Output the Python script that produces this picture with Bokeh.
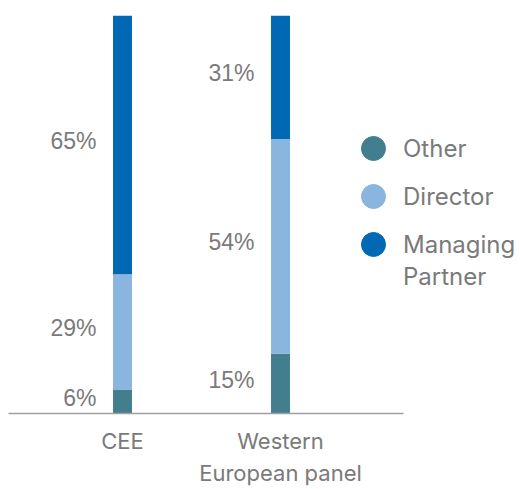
from bokeh.plotting import figure
from bokeh.models import ColumnDataSource, Range1d, Legend, LegendItem, FixedTicker
from bokeh.core.properties import value
from bokeh.embed import file_html
from bokeh.resources import INLINE

categories = ["CEE", "Western\nEuropean panel"]
other = [6, 15]
director = [29, 54]
managing = [65, 31]
series = ["Other", "Director", "Managing"]
series_wrap = "Partner"
colors = ["#437e8f", "#8ab5df", "#0169b4"]

xpos = [1, 2]
TEXT = "#7a7a7a"
FONT = "Inter"

p = figure(width=520, height=489, output_backend="svg", toolbar_location=None,
           x_range=Range1d(0.2785, 3.519), y_range=Range1d(0, 100),
           min_border_left=8, min_border_right=0, min_border_top=15,
           min_border_bottom=74)
p.outline_line_color = None
p.grid.visible = False
p.yaxis.visible = False

src = ColumnDataSource(dict(x=xpos, Other=other, Director=director, Managing=managing))
stack_cols = ["Other", "Director", "Managing"]
p.vbar_stack(stack_cols, x="x", width=0.12, color=colors, line_color=None, source=src)

# value labels
lx, ly, lt = [], [], []
for i, xv in enumerate(xpos):
    base = 0
    for vals in (other, director, managing):
        v = vals[i]
        lx.append(xv)
        ly.append(base + v / 2)
        lt.append(f"{v}%")
        base += v
p.text(x=lx, y=ly, text=lt, x_offset=-26, y_offset=-4, text_align="right",
       text_baseline="middle", text_font=value("Liberation Sans"),
       text_font_size="23px", text_color=TEXT)

ax = p.xaxis[0]
ax.ticker = FixedTicker(ticks=xpos)
ax.bounds = (0.2785, 2.7785)
ax.major_label_overrides = {xv: c for xv, c in zip(xpos, categories)}
ax.major_tick_line_color = None
ax.minor_tick_line_color = None
ax.major_tick_out = 0
ax.minor_tick_out = 0
ax.axis_line_color = "#a0a0a0"
ax.axis_line_width = 1.5
ax.major_label_standoff = 14
ax.major_label_text_font = FONT
ax.major_label_text_font_size = "22px"
ax.major_label_text_line_height = 1.25
ax.major_label_text_color = TEXT

# legend swatches (circles, hidden in the plot area)
legend_rs = [p.circle(x="x", y=col, source=src, radius=12, radius_units="screen",
                      color=c, visible=False) for col, c in zip(stack_cols, colors)]
blank_r = p.circle(x="x", y="Other", source=src, radius=12, radius_units="screen",
                   fill_alpha=0, line_alpha=0, visible=False)

common = dict(padding=0, margin=0, border_line_color=None, background_fill_alpha=0,
              glyph_width=60, glyph_height=60, label_standoff=0, spacing=0,
              label_text_font=FONT, label_text_font_size="24px",
              label_text_color=TEXT)
legend_y = [235, 187, 139]
for s, r, ly_ in zip(series, legend_rs, legend_y):
    p.add_layout(Legend(items=[LegendItem(label=s, renderers=[r])],
                        location=(335, ly_), **common))
p.add_layout(Legend(items=[LegendItem(label=series_wrap, renderers=[blank_r])],
                    location=(335, 107), **common))

open("out.html", "w").write(file_html(p, INLINE))
